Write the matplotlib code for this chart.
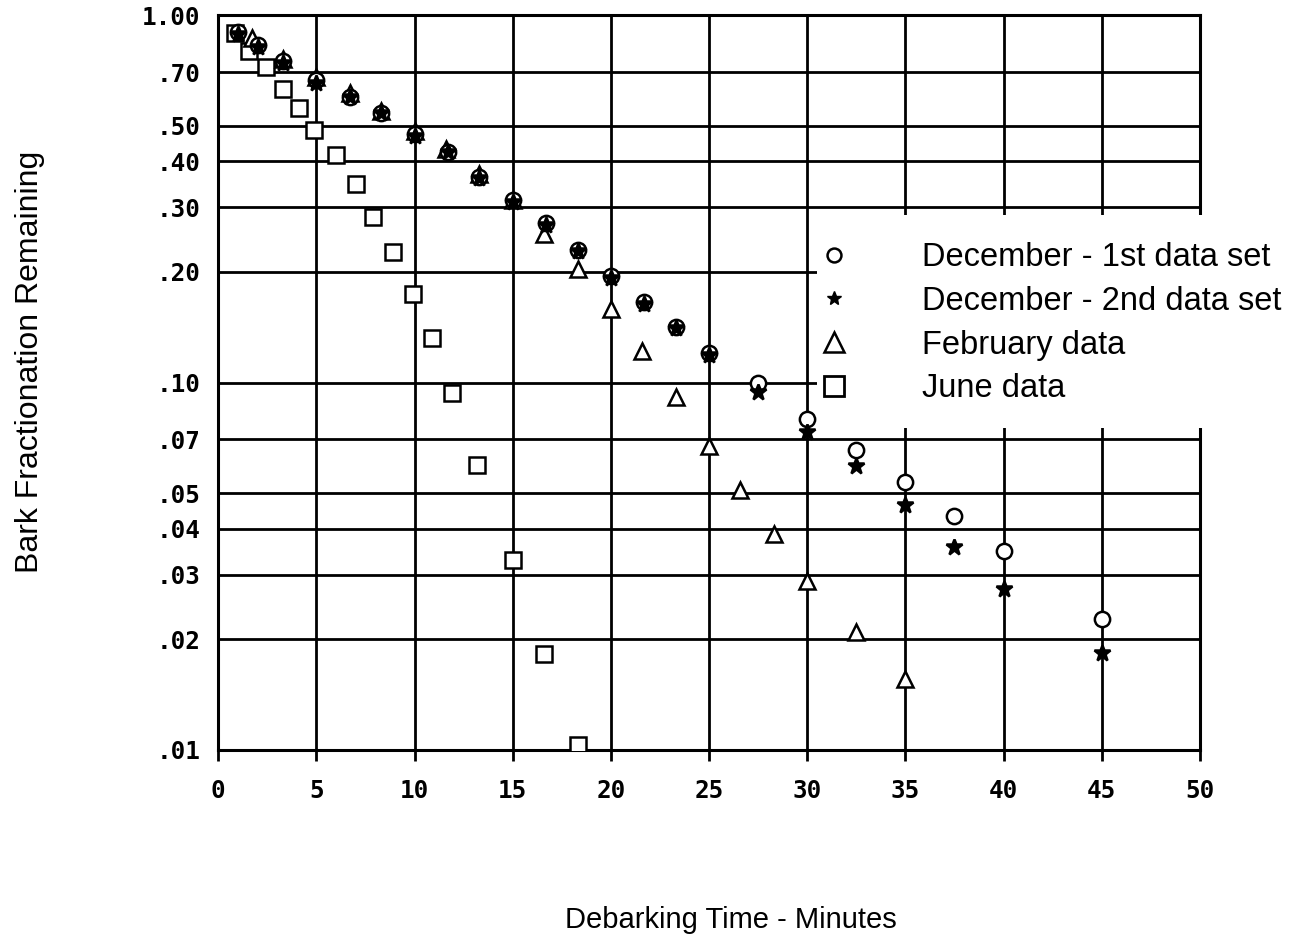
import matplotlib
matplotlib.use("Agg")
import matplotlib.pyplot as plt
from matplotlib.lines import Line2D
from matplotlib.patches import Rectangle
from matplotlib.ticker import FixedLocator, FixedFormatter, NullLocator

# debarking time (minutes) and bark fraction remaining
dec1_t = [1.0, 2.0, 3.3, 5.0, 6.7, 8.3, 10.0, 11.7, 13.3, 15.0, 16.7, 18.3, 20.0,
          21.7, 23.3, 25.0, 27.5, 30.0, 32.5, 35.0, 37.5, 40.0, 45.0]
dec1_f = [0.90, 0.83, 0.75, 0.665, 0.60, 0.54, 0.475, 0.425, 0.362, 0.313, 0.271,
          0.230, 0.195, 0.166, 0.142, 0.120, 0.0996, 0.0798, 0.0655, 0.0536,
          0.0434, 0.0348, 0.0227]

dec2_t = [1.0, 2.0, 3.3, 5.0, 6.7, 8.3, 10.0, 11.7, 13.3, 15.0, 16.7, 18.3, 20.0,
          21.7, 23.3, 25.0, 27.5, 30.0, 32.5, 35.0, 37.5, 40.0, 45.0]
dec2_f = [0.89, 0.82, 0.74, 0.655, 0.60, 0.54, 0.47, 0.425, 0.36, 0.31, 0.268,
          0.228, 0.193, 0.164, 0.141, 0.119, 0.094, 0.0734, 0.0594, 0.0465,
          0.0356, 0.0274, 0.0184]

feb_t = [1.7, 3.3, 5.0, 6.7, 8.3, 10.0, 11.6, 13.3, 15.0, 16.6, 18.3, 20.0, 21.6,
         23.3, 25.0, 26.6, 28.3, 30.0, 32.5, 35.0]
feb_f = [0.864, 0.76, 0.68, 0.614, 0.548, 0.485, 0.431, 0.37, 0.313, 0.254, 0.204,
         0.159, 0.122, 0.0913, 0.067, 0.051, 0.0387, 0.0289, 0.0209, 0.0156]

june_t = [0.85, 1.55, 2.45, 3.3, 4.1, 4.9, 6.0, 7.0, 7.9, 8.9, 9.9, 10.9, 11.9,
          13.2, 15.0, 16.6, 18.3]
june_f = [0.895, 0.80, 0.723, 0.631, 0.557, 0.488, 0.416, 0.346, 0.282, 0.226,
          0.174, 0.132, 0.0937, 0.0598, 0.0329, 0.0182, 0.0103]

y_ticks = [1.0, 0.7, 0.5, 0.4, 0.3, 0.2, 0.1, 0.07, 0.05, 0.04, 0.03, 0.02, 0.01]
y_labels = ['1.00', '.70', '.50', '.40', '.30', '.20', '.10', '.07', '.05', '.04',
            '.03', '.02', '.01']
x_ticks = [0, 5, 10, 15, 20, 25, 30, 35, 40, 45, 50]

fig = plt.figure(figsize=(13.07, 9.43), dpi=100)
ax = fig.add_axes([0.167, 0.2047, 0.751, 0.7793])

ax.set_yscale('log')
ax.set_xlim(0, 50)
ax.set_ylim(0.01, 1.0)

mono = 'DejaVu Sans Mono'
ax.yaxis.set_major_locator(FixedLocator(y_ticks))
ax.yaxis.set_major_formatter(FixedFormatter(y_labels))
ax.yaxis.set_minor_locator(NullLocator())
ax.set_xticks(x_ticks)
ax.set_xticklabels([str(v) for v in x_ticks])
for lab in ax.get_xticklabels() + ax.get_yticklabels():
    lab.set_fontfamily(mono)
    lab.set_fontweight('bold')
    lab.set_fontsize(17.5)
ax.tick_params(axis='x', direction='out', length=8, width=2, pad=13)
ax.tick_params(axis='y', length=0, pad=13)

ax.grid(True, color='black', linewidth=2)
for s in ax.spines.values():
    s.set_linewidth(2.2)

# blank area behind the key
ax.add_patch(Rectangle((30.5, 0.075), 21, 0.21, facecolor='white', edgecolor='none',
                       zorder=3, clip_on=False))

mk = dict(linestyle='none', color='black', markeredgewidth=1.8, zorder=4)
ax.plot(june_t, june_f, marker='s', markersize=11, markerfacecolor='white', **mk)
ax.plot(feb_t, feb_f, marker='^', markersize=11, markerfacecolor='white', **mk)
ax.plot(dec1_t, dec1_f, marker='o', markersize=11, markerfacecolor='white', **mk)
ax.plot(dec2_t, dec2_f, marker='*', markersize=12, markerfacecolor='black', **mk)

handles = [
    Line2D([], [], linestyle='none', marker='o', markersize=10, markerfacecolor='white',
           markeredgecolor='black', markeredgewidth=1.8),
    Line2D([], [], linestyle='none', marker='*', markersize=10, color='black'),
    Line2D([], [], linestyle='none', marker='^', markersize=14, markerfacecolor='white',
           markeredgecolor='black', markeredgewidth=1.8),
    Line2D([], [], linestyle='none', marker='s', markersize=14, markerfacecolor='white',
           markeredgecolor='black', markeredgewidth=2),
]
labels = ['December - 1st data set', 'December - 2nd data set', 'February data',
          'June data']
ax.legend(handles, labels, loc='upper left', bbox_to_anchor=(0.611, 0.691),
          frameon=False, borderpad=0, borderaxespad=0, handlelength=1.0,
          handletextpad=2.19, labelspacing=0.39,
          prop={'family': 'Liberation Sans', 'size': 23.5})

fig.text(0.023, 0.616, 'Bark Fractionation Remaining', rotation=90, ha='center',
         va='center', fontsize=23, family='Liberation Sans')
fig.text(0.559, 0.024, 'Debarking Time - Minutes', ha='center', va='center',
         fontsize=21, family='Liberation Sans')

fig.savefig('out.png', dpi=100, facecolor='white')
